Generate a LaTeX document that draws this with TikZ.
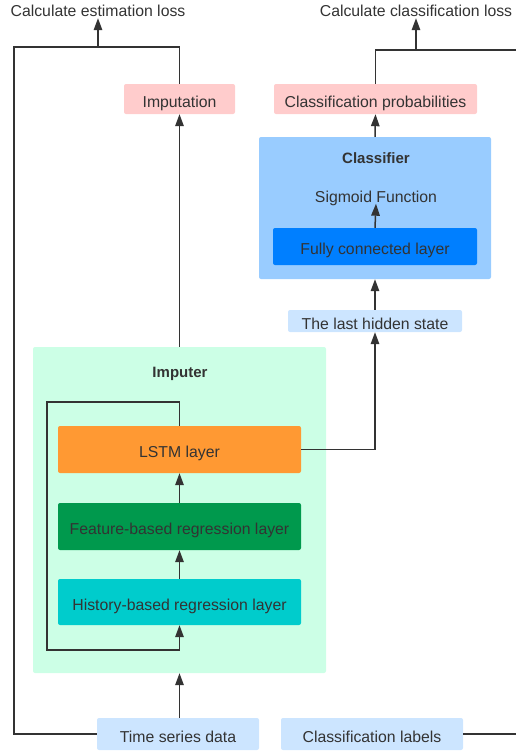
\documentclass[tikz,border=0pt]{standalone}
\usepackage{fontspec}
\setmainfont{Liberation Sans}
\usetikzlibrary{arrows.meta}
\definecolor{txt}{HTML}{333333}
\definecolor{pinkbox}{HTML}{FFCCCC}
\definecolor{clsbox}{HTML}{99CCFF}
\definecolor{fcbox}{HTML}{007FFF}
\definecolor{lightblue}{HTML}{CCE5FF}
\definecolor{impbox}{HTML}{CCFFE6}
\definecolor{lstmbox}{HTML}{FF9933}
\definecolor{featbox}{HTML}{00994D}
\definecolor{histbox}{HTML}{00CCCC}
\tikzset{
  box/.style={rectangle, rounded corners=2pt, inner sep=0pt, text=txt, text height=16pt, text depth=0pt, font=\fontsize{15.8}{18}\selectfont},
  lbl/.style={inner sep=0pt, text=txt, text height=16pt, text depth=0pt, font=\fontsize{15.8}{18}\selectfont},
  ttl/.style={inner sep=0pt, text=txt, text height=16pt, text depth=0pt, font=\fontsize{15}{18}\selectfont\bfseries},
  conn/.style={draw=txt, line width=1.5pt},
  arr/.style={conn, -{Triangle[length=12pt,width=8.5pt]}},
}
\begin{document}
\begin{tikzpicture}[x=1pt,y=-1pt]
\useasboundingbox (0,0) rectangle (515,753);
% titles
\node[lbl, inner ysep=2pt] (estloss) at (98,8) {Calculate estimation loss};
\node[lbl, inner ysep=2pt] (clsloss) at (416,8) {Calculate classification loss};
% top boxes
\node[box, fill=pinkbox, minimum width=111pt, minimum height=30pt] (imput) at (179.5,99) {Imputation};
\node[box, fill=pinkbox, minimum width=203pt, minimum height=30pt] (cprob) at (375.5,99) {Classification probabilities};
% classifier
\node[box, fill=clsbox, minimum width=232pt, minimum height=142pt] (clsf) at (375,208) {};
\node[ttl] (clsttl) at (376,155.5) {Classifier};
\node[lbl, inner ysep=1.5pt] (sigm) at (376,194) {Sigmoid Function};
\node[box, fill=fcbox, minimum width=204pt, minimum height=37pt] (fc) at (375,246.5) {Fully connected layer};
\node[box, fill=lightblue, minimum width=174pt, minimum height=22pt] (lhs) at (375,321) {The last hidden state};
% imputer
\node[box, fill=impbox, minimum width=293pt, minimum height=326pt] (imputer) at (179.5,510) {};
\node[ttl] (impttl) at (180,369.5) {Imputer};
\node[box, fill=lstmbox, minimum width=243pt, minimum height=47pt] (lstm) at (179.5,449.5) {LSTM layer};
\node[box, fill=featbox, minimum width=243pt, minimum height=47pt] (feat) at (179.5,526.5) {Feature-based regression layer};
\node[box, fill=histbox, minimum width=243pt, minimum height=46pt] (hist) at (179.5,602) {History-based regression layer};
% inputs
\node[box, fill=lightblue, minimum width=162pt, minimum height=32pt] (tsd) at (178,734) {Time series data};
\node[box, fill=lightblue, minimum width=182pt, minimum height=32pt] (clab) at (372,734) {Classification labels};
% coordinates
\coordinate (eL) at (14,47);
\coordinate (eM) at (98,47);
\coordinate (cM) at (416,50);
\coordinate (cR) at (516,50);
\coordinate (labR) at (516,734);
\coordinate (loopTL) at (47,402);
% connectors
\draw[conn] (tsd.west) -| (eL) -| (imput.north);
\draw[arr] (eM) -- (estloss.south);
\draw[conn] (cprob.north) |- (cR);
\draw[arr] (cM) -- (clsloss.south);
\draw[conn] (clab.east) -- (labR);
\draw[arr] (clsf.north) -- (cprob.south);
\draw[arr] (fc.north) -- (sigm.south);
\draw[arr] (lhs.north) -- (clsf.south);
\draw[arr] (lstm.east) -| (lhs.south);
\draw[arr] (imputer.north -| imput.south) -- (imput.south);
\draw[arr] (tsd.north -| imputer.south) -- (imputer.south);
\draw[arr] (feat.north) -- (lstm.south);
\draw[arr] (hist.north) -- (feat.south);
\draw[arr] (lstm.north) |- (loopTL) |- (179.5,650) -- (hist.south);
\end{tikzpicture}
\end{document}
